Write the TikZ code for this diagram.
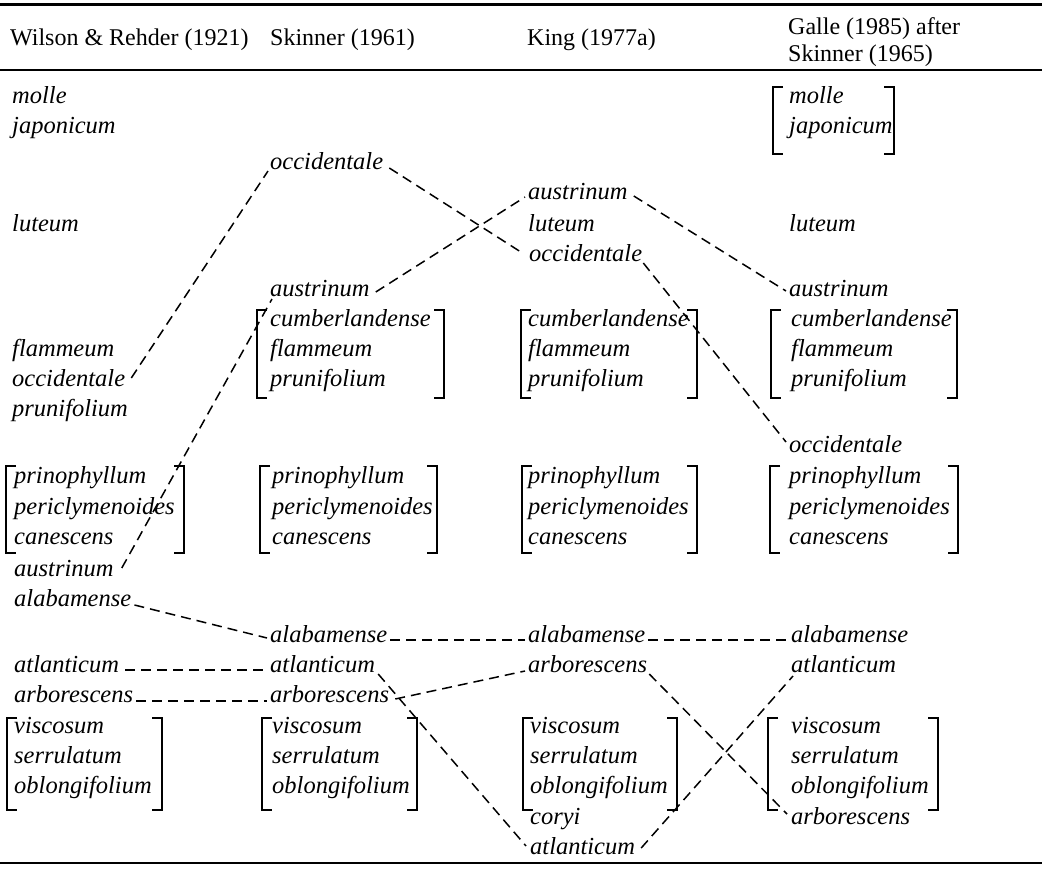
\documentclass[tikz,border=0pt]{standalone}
\usepackage{fontspec}
\setmainfont{Liberation Serif}
\newcommand\sqgroup[4]{%
  \draw[brk] (#1+10,#3) -- (#1,#3) -- (#1,#4) -- (#1+10,#4);
  \draw[brk] (#2-10,#3) -- (#2,#3) -- (#2,#4) -- (#2-10,#4);}
\begin{document}
\begin{tikzpicture}[x=1pt,y=-1pt,
  sp/.style={font=\fontsize{24.5}{28}\selectfont\itshape, inner sep=0pt, anchor=base west},
  hd/.style={font=\fontsize{24}{28}\selectfont, inner sep=0pt, anchor=base west},
  lnk/.style={line width=1.5pt, dash pattern=on 10pt off 6pt},
  brk/.style={line width=1.9pt},
  rulethick/.style={line width=3pt},
  rulethin/.style={line width=1.5pt},
  rulebottom/.style={line width=2.2pt}]
\useasboundingbox (0,0) rectangle (1042,873);
% rules
\draw[rulethick] (0,4) -- (1042,4);
\draw[rulethin] (0,70) -- (1042,70);
\draw[rulebottom] (0,863) -- (1042,863);
% headers
\node[hd] (h1) at (10,45) {Wilson \& Rehder (1921)};
\node[hd] (h2) at (270,45) {Skinner (1961)};
\node[hd] (h3) at (527,45) {King (1977a)};
\node[hd] (h4) at (788,34) {Galle (1985) after};
\node[hd] (h5) at (788,61) {Skinner (1965)};
% column 1
\node[sp] (w_molle) at (12,103) {molle};
\node[sp] (w_jap) at (12,133) {japonicum};
\node[sp] (w_lut) at (12,231) {luteum};
\node[sp] (w_flam) at (12,356) {flammeum};
\node[sp] (w_occ) at (12,386) {occidentale};
\node[sp] (w_prun) at (12,416) {prunifolium};
\node[sp] (w_prin) at (14,483) {prinophyllum};
\node[sp] (w_peri) at (14,514) {periclymenoides};
\node[sp] (w_can) at (14,544) {canescens};
\node[sp] (w_aus) at (14,576) {austrinum};
\node[sp] (w_alab) at (14,606) {alabamense};
\node[sp] (w_atl) at (14,672) {atlanticum};
\node[sp] (w_arb) at (14,702) {arborescens};
\node[sp] (w_visc) at (14,733) {viscosum};
\node[sp] (w_serr) at (14,763) {serrulatum};
\node[sp] (w_obl) at (14,793) {oblongifolium};
% column 2
\node[sp] (s_occ) at (270,169) {occidentale};
\node[sp] (s_aus) at (270,296) {austrinum};
\node[sp] (s_cumb) at (270,326) {cumberlandense};
\node[sp] (s_flam) at (270,356) {flammeum};
\node[sp] (s_prun) at (270,386) {prunifolium};
\node[sp] (s_prin) at (272,483) {prinophyllum};
\node[sp] (s_peri) at (272,514) {periclymenoides};
\node[sp] (s_can) at (272,544) {canescens};
\node[sp] (s_alab) at (270,642) {alabamense};
\node[sp] (s_atl) at (270,672) {atlanticum};
\node[sp] (s_arb) at (270,702) {arborescens};
\node[sp] (s_visc) at (272,733) {viscosum};
\node[sp] (s_serr) at (272,763) {serrulatum};
\node[sp] (s_obl) at (272,793) {oblongifolium};
% column 3
\node[sp] (k_aus) at (528,199) {austrinum};
\node[sp] (k_lut) at (528,231) {luteum};
\node[sp] (k_occ) at (529,261) {occidentale};
\node[sp] (k_cumb) at (528,326) {cumberlandense};
\node[sp] (k_flam) at (528,356) {flammeum};
\node[sp] (k_prun) at (528,386) {prunifolium};
\node[sp] (k_prin) at (528,483) {prinophyllum};
\node[sp] (k_peri) at (528,514) {periclymenoides};
\node[sp] (k_can) at (528,544) {canescens};
\node[sp] (k_alab) at (528,642) {alabamense};
\node[sp] (k_arb) at (528,672) {arborescens};
\node[sp] (k_visc) at (530,733) {viscosum};
\node[sp] (k_serr) at (530,763) {serrulatum};
\node[sp] (k_obl) at (530,793) {oblongifolium};
\node[sp] (k_cory) at (530,824) {coryi};
\node[sp] (k_atl) at (530,854) {atlanticum};
% column 4
\node[sp] (g_molle) at (789,103) {molle};
\node[sp] (g_jap) at (789,133) {japonicum};
\node[sp] (g_lut) at (789,231) {luteum};
\node[sp] (g_aus) at (789,296) {austrinum};
\node[sp] (g_cumb) at (791,326) {cumberlandense};
\node[sp] (g_flam) at (791,356) {flammeum};
\node[sp] (g_prun) at (791,386) {prunifolium};
\node[sp] (g_occ) at (789,452) {occidentale};
\node[sp] (g_prin) at (789,483) {prinophyllum};
\node[sp] (g_peri) at (789,514) {periclymenoides};
\node[sp] (g_can) at (789,544) {canescens};
\node[sp] (g_alab) at (791,642) {alabamense};
\node[sp] (g_atl) at (791,672) {atlanticum};
\node[sp] (g_visc) at (791,733) {viscosum};
\node[sp] (g_serr) at (791,763) {serrulatum};
\node[sp] (g_obl) at (791,793) {oblongifolium};
\node[sp] (g_arb) at (791,824) {arborescens};
% brackets
\sqgroup{773}{894}{87}{154}
\sqgroup{257}{444}{310}{398}
\sqgroup{521}{697}{310}{398}
\sqgroup{771}{957}{310}{398}
\sqgroup{6}{184}{466}{553}
\sqgroup{260}{437}{466}{553}
\sqgroup{522}{697}{466}{553}
\sqgroup{770}{958}{466}{553}
\sqgroup{7}{162}{718}{810}
\sqgroup{262}{417}{718}{810}
\sqgroup{523}{677}{718}{810}
\sqgroup{768}{938}{718}{810}
% connectors
\draw[lnk] ([xshift=6pt,yshift=8pt]w_occ.base east) -- ([xshift=-2pt,yshift=-2pt]s_occ.base west);
\draw[lnk] ([xshift=6pt,yshift=1pt]s_occ.base east) -- ([xshift=-5pt,yshift=7pt]k_occ.base west);
\draw[lnk] ([xshift=6pt,yshift=4pt]s_aus.base east) -- ([xshift=-3pt,yshift=2pt]k_aus.base west);
\draw[lnk] ([xshift=6pt,yshift=3pt]k_aus.base east) -- ([xshift=-3pt,yshift=5pt]g_aus.base west);
\draw[lnk] ([xshift=1pt,yshift=-2pt]k_occ.base east) -- ([xshift=-3pt,yshift=10pt]g_occ.base west);
\draw[lnk] ([xshift=8pt,yshift=8pt]w_aus.base east) -- ([xshift=2pt,yshift=-3pt]s_aus.base west);
\draw[lnk] ([xshift=3pt,yshift=1pt]w_alab.base east) -- ([xshift=-3pt,yshift=4pt]s_alab.base west);
\draw[lnk] ([xshift=3pt,yshift=2pt]s_alab.base east) -- ([xshift=-3pt,yshift=2pt]k_alab.base west);
\draw[lnk] ([xshift=3pt,yshift=2pt]k_alab.base east) -- ([xshift=-3pt,yshift=2pt]g_alab.base west);
\draw[lnk] ([xshift=6pt,yshift=2pt]w_atl.base east) -- ([xshift=-3pt,yshift=2pt]s_atl.base west);
\draw[lnk] ([xshift=3pt,yshift=1pt]w_arb.base east) -- ([xshift=-3pt,yshift=1pt]s_arb.base west);
\draw[lnk] ([xshift=3pt,yshift=-2pt]s_atl.base east) -- ([xshift=-4pt,yshift=8pt]k_atl.base west);
\draw[lnk] ([xshift=6pt,yshift=3pt]s_arb.base east) -- ([xshift=-3pt,yshift=1pt]k_arb.base west);
\draw[lnk] ([xshift=2pt,yshift=-2pt]k_arb.base east) -- ([xshift=-4pt,yshift=10pt]g_arb.base west);
\draw[lnk] ([xshift=6pt,yshift=6pt]k_atl.base east) -- ([xshift=2pt,yshift=-4pt]g_atl.base west);
\end{tikzpicture}
\end{document}
